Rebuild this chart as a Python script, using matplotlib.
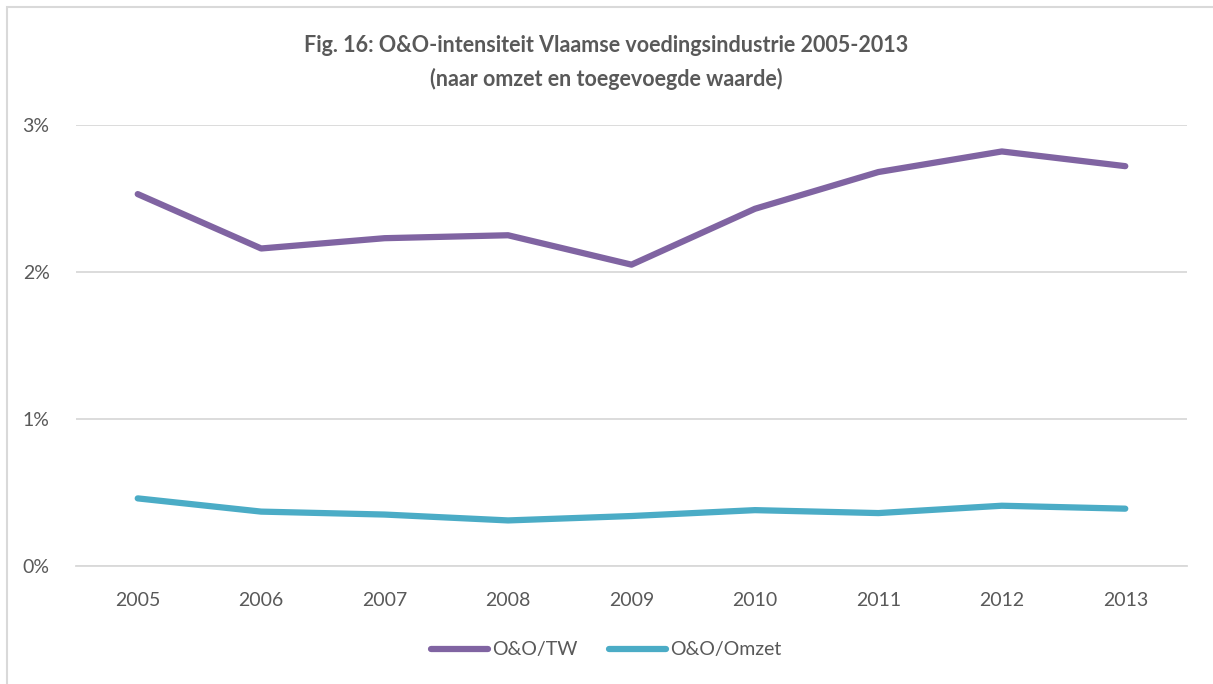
import matplotlib
matplotlib.use("Agg")
from matplotlib import pyplot as plt
from matplotlib.ticker import PercentFormatter
from matplotlib.patches import Rectangle

years = ["2005", "2006", "2007", "2008", "2009", "2010", "2011", "2012", "2013"]
# R&D intensity in percent
oo_tw = [2.53, 2.16, 2.23, 2.25, 2.05, 2.43, 2.68, 2.82, 2.72]
oo_omzet = [0.46, 0.37, 0.35, 0.31, 0.34, 0.38, 0.36, 0.41, 0.39]

plt.rcParams['font.family'] = ['Lato', 'DejaVu Sans']
text_col = "#595959"

fig = plt.figure(figsize=(12.13, 6.84), dpi=100)
ax = fig.add_axes([76/1213, 1-566/684, (1187-76)/1213, (566-125)/684])

# chart frame
fig.patches.append(Rectangle((7/1213, -0.1), 1.2, (684-7)/684 + 0.1, transform=fig.transFigure,
                             fill=False, edgecolor="#D9D9D9", linewidth=1.5))

x = range(len(years))
ax.plot(x, oo_tw, color="#8064A2", linewidth=4.5, solid_capstyle="round", solid_joinstyle="round", label="O&O/TW")
ax.plot(x, oo_omzet, color="#4BACC6", linewidth=4.5, solid_capstyle="round", solid_joinstyle="round", label="O&O/Omzet")

ax.set_xlim(-0.5, len(years) - 0.5)
ax.set_ylim(0, 3)
ax.set_yticks([0, 1, 2, 3])
ax.yaxis.set_major_formatter(PercentFormatter(decimals=0))
ax.set_xticks(list(x))
ax.set_xticklabels(years)
ax.grid(axis="y", color="#D9D9D9", linewidth=1.3)
ax.set_axisbelow(True)
for s in ["top", "right", "left"]:
    ax.spines[s].set_visible(False)
ax.spines["bottom"].set_color("#D9D9D9")
ax.spines["bottom"].set_linewidth(1.3)
ax.tick_params(length=0, labelsize=14, colors=text_col)
ax.tick_params(axis="x", pad=19)
ax.tick_params(axis="y", pad=19)

fig.text(0.5, 1-45/684, "Fig. 16: O&O-intensiteit Vlaamse voedingsindustrie 2005-2013",
         ha="center", va="center", fontsize=15.5, fontweight="bold", color=text_col)
fig.text(0.5, 1-79/684, "(naar omzet en toegevoegde waarde)",
         ha="center", va="center", fontsize=15.5, fontweight="bold", color=text_col)

fig.legend(loc="center", bbox_to_anchor=(0.5, 1-650/684), ncol=2, frameon=False,
           fontsize=14, labelcolor=text_col, handlelength=2.9, handletextpad=0.25, columnspacing=1.6)

fig.savefig("out.png", dpi=100)
